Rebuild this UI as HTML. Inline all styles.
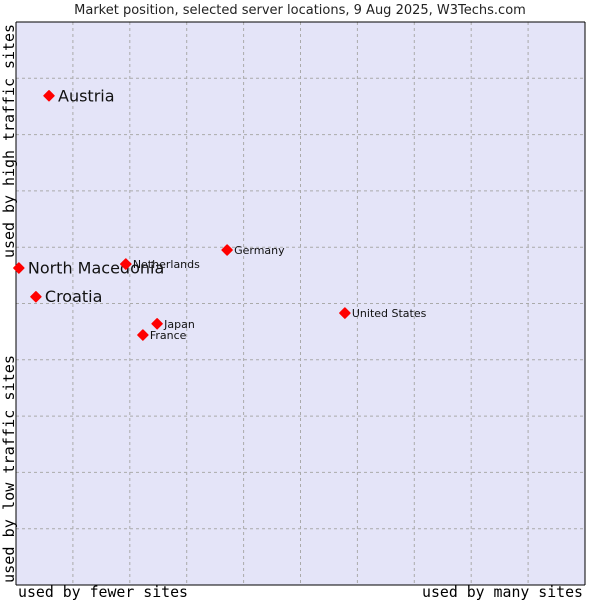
<!DOCTYPE html>
<html><head><meta charset="utf-8"><style>
body{margin:0;background:#fff}
svg{display:block}
</style></head><body>
<svg width="600" height="600" xmlns="http://www.w3.org/2000/svg">
<text x="300" y="14" text-anchor="middle" font-family="DejaVu Sans, sans-serif" font-size="13" fill="#222">Market position, selected server locations, 9 Aug 2025, W3Techs.com</text>
<rect x="16" y="22" width="569" height="563" fill="#e4e4f8"/>
<g id="grid"></g>
<line x1="16" y1="22" x2="585" y2="22" stroke="#000"/>
<line x1="16" y1="22" x2="16" y2="585" stroke="#000"/>
<line x1="585" y1="22" x2="585" y2="585" stroke="#000"/>
<line x1="16" y1="585" x2="585" y2="585" stroke="#000"/>
<g id="points"></g>
<text x="18" y="597" textLength="170" lengthAdjust="spacingAndGlyphs" font-family="DejaVu Sans Mono, monospace" font-size="15" fill="#000">used by fewer sites</text>
<text x="422" y="597" textLength="161" lengthAdjust="spacingAndGlyphs" font-family="DejaVu Sans Mono, monospace" font-size="15" fill="#000">used by many sites</text>
<text transform="translate(14,583) rotate(-90)" textLength="228" lengthAdjust="spacingAndGlyphs" font-family="DejaVu Sans Mono, monospace" font-size="15" fill="#000">used by low traffic sites</text>
<text transform="translate(14,258) rotate(-90)" textLength="234" lengthAdjust="spacingAndGlyphs" font-family="DejaVu Sans Mono, monospace" font-size="15" fill="#000">used by high traffic sites</text>
</svg>
<script>
const names = ["Austria","North Macedonia","Croatia","Netherlands","Germany","United States","Japan","France"];
const xValues = [5.8,0.5,3.5,19.3,37.1,57.8,24.8,22.3];
const yValues = [86.9,56.3,51.2,57.0,59.5,48.3,46.4,44.4];
const highlighted = [true,true,true,false,false,false,false,false];
const X0=16,X1=585,Y0=585,Y1=22;
function sx(v){return X0+(X1-X0)*v/100;}
function sy(v){return Y0-(Y0-Y1)*v/100;}
const NS="http://www.w3.org/2000/svg";
const grid=document.getElementById('grid');
for(let i=1;i<10;i++){
  const v=document.createElementNS(NS,'line');
  v.setAttribute('x1',sx(i*10));v.setAttribute('x2',sx(i*10));v.setAttribute('y1',Y1);v.setAttribute('y2',Y0);
  v.setAttribute('stroke','#aaa');v.setAttribute('stroke-dasharray','3,3');
  
  
  grid.appendChild(v);
  const h=document.createElementNS(NS,'line');
  h.setAttribute('y1',sy(i*10));h.setAttribute('y2',sy(i*10));h.setAttribute('x1',X0);h.setAttribute('x2',X1);
  h.setAttribute('stroke','#aaa');h.setAttribute('stroke-dasharray','3,3');
  
  
  grid.appendChild(h);
}
const pts=document.getElementById('points');
names.forEach((n,i)=>{
  const x=sx(xValues[i]),y=sy(yValues[i]);
  const m=document.createElementNS(NS,'path');
  m.setAttribute('d',`M${x},${y-5}L${x+5},${y}L${x},${y+5}L${x-5},${y}Z`);
  m.setAttribute('fill','#f00');
  m.setAttribute('stroke','#f00');
  m.setAttribute('stroke-width','1.5');
  m.setAttribute('stroke-linejoin','round');
  
  
  pts.appendChild(m);
  const t=document.createElementNS(NS,'text');
  const big=highlighted[i];
  t.setAttribute('x',x+(big?9:7));
  t.setAttribute('y',y+(big?5.5:4));
  t.setAttribute('font-family','DejaVu Sans, sans-serif');
  t.setAttribute('font-size',big?16:11);
  t.setAttribute('fill','#111');
  t.textContent=n;
  
  
  pts.appendChild(t);
});
</script>
</body></html>
